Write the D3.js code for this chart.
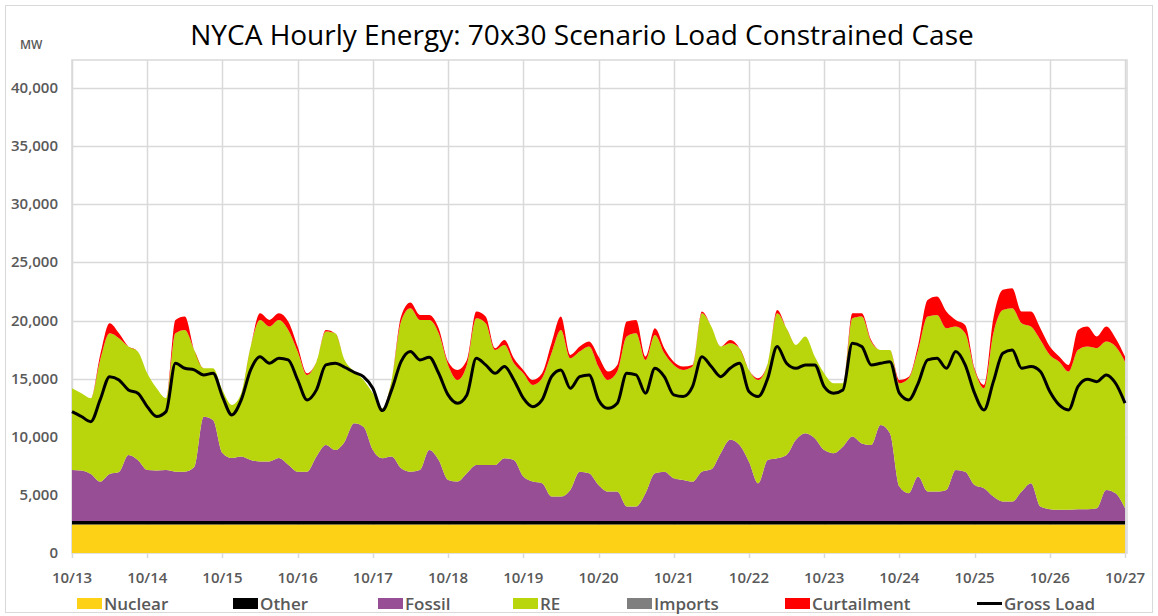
<!DOCTYPE html>
<html>
<head>
<meta charset="utf-8">
<script src="https://cdn.jsdelivr.net/npm/d3@7"></script>
<style>
  body { margin: 0; background: #fff; }
  text { font-family: "Open Sans", "Liberation Sans", sans-serif; }
</style>
</head>
<body>
<div id="vis"><svg></svg></div>
<script>
// 3-hourly samples, 10/13 00:00 to 10/27 00:00 (MW)
const dayLabels = ["10/13","10/14","10/15","10/16","10/17","10/18","10/19","10/20","10/21","10/22","10/23","10/24","10/25","10/26","10/27"];
const yTicks = [0, 5000, 10000, 15000, 20000, 25000, 30000, 35000, 40000];

const nuclearMW = 2450;
const otherMW = 300;
const importsMW = 0;

// top of the fossil layer (nuclear + other + fossil)
const fossilTop = [7140,7100,6800,6140,6800,6970,8430,8000,7140,7100,7140,7000,7000,7400,11730,11450,8600,8170,8300,8000,7880,7880,8170,7600,7000,7000,8300,9290,8860,9580,11160,10870,8860,8150,8300,7290,7000,7140,8860,8000,6280,6140,6860,7570,7570,7570,8150,8000,6570,6140,6000,4850,4850,5430,7000,6860,5850,5280,5280,4000,4000,5140,6860,7000,6430,6280,6140,7000,7200,8590,9740,9290,7860,6000,8000,8150,8430,9740,10310,9880,8860,8590,9150,10020,9430,9290,11020,10310,5710,5140,6570,5280,5280,5430,7140,7000,5850,5570,4850,4430,4430,5280,6000,4000,3770,3710,3710,3770,3770,3860,5430,5140,3860];
// top of the RE layer
const reTop = [14170,13750,13320,16610,18900,18480,17760,17330,15460,14170,13320,18900,19190,17470,15890,15890,14030,12740,13750,17760,20050,19480,20050,19190,17330,15320,16460,19050,18900,16610,15640,14890,13750,12450,14890,19910,21050,20050,20050,18900,16180,14890,16180,20190,19770,17470,17900,16320,15460,14460,15030,17180,19190,16750,17330,17760,16030,14890,15610,18620,18900,16610,18760,17180,16180,15750,16040,20620,19480,17760,18040,17620,15750,14890,16320,20620,19330,17900,18620,16900,15460,14600,14600,20190,20340,18190,17470,17470,14600,15030,17470,20340,20480,19330,19480,18900,15750,14170,18900,20910,21050,19770,19480,18330,17040,16460,15610,17470,17760,17620,18190,17760,16460];
// top of the curtailment layer (total)
const totalTop = [14170,13750,13320,17040,19770,18900,17760,17330,15460,14170,13320,20050,20340,17470,15890,15890,14030,12740,13750,17760,20620,20050,20620,19910,17760,15460,16460,19190,18900,16610,15640,14890,13750,12450,14890,20340,21540,20480,20480,19330,16460,15750,16610,20770,20340,17620,18330,16750,15750,14890,15460,18040,20340,17040,17760,18190,16900,15610,16180,19910,20050,16900,19330,17620,16460,16040,16180,20770,19480,17760,18330,17620,15750,15030,16320,20910,19330,17900,18620,16900,15460,14600,14600,20620,20620,18330,17470,17470,14890,15170,17900,21770,22060,20770,20050,19620,15890,14460,20190,22640,22780,20770,20770,19330,17760,16900,16180,19190,19480,18620,19480,18480,16900];
const grossLoad = [12160,11740,11300,13190,15170,14890,14030,13750,12590,11740,12160,16320,15890,15750,15320,15460,13460,11880,13170,15750,16890,16320,16750,16610,14890,13170,14030,16180,16320,15980,15550,15170,14170,12250,14030,16460,17330,16610,16840,15460,13600,12890,13600,16750,16180,15460,16040,14890,13320,12590,13170,15170,15750,14170,15170,15320,13170,12450,12890,15460,15320,13750,15890,15170,13600,13460,14320,16890,16040,15170,15890,16320,13890,13460,15030,17760,16320,15890,16180,16180,14320,13750,14030,18040,17760,16180,16320,16460,13750,13170,14600,16610,16750,15890,17330,16180,13750,12310,14740,17180,17470,15890,16040,15610,13890,12740,12310,14320,14950,14740,15320,14600,12890];

const seriesKeys = ["Nuclear", "Other", "Fossil", "RE", "Imports", "Curtailment"];
const colors = {
  "Nuclear": "#FCD116",
  "Other": "#000000",
  "Fossil": "#984E94",
  "RE": "#B9D50B",
  "Imports": "#7F7F7F",
  "Curtailment": "#FF0000"
};

// rows for d3.stack
const rows = fossilTop.map((f, i) => ({
  hour: i * 3,
  "Nuclear": nuclearMW,
  "Other": otherMW,
  "Fossil": f - nuclearMW - otherMW,
  "RE": reTop[i] - f,
  "Imports": importsMW,
  "Curtailment": totalTop[i] - reTop[i],
  "Load": grossLoad[i]
}));

var W = 1158, H = 616;
var plot = {left: 72, right: 1127, top: 60, bottom: 553};

var svg = d3.select("#vis").select("svg")
  .attr("width", W)
  .attr("height", H);

// outer frame
svg.append("rect")
  .attr("x", 5.5).attr("y", 5.5)
  .attr("width", W - 11).attr("height", H - 9)
  .attr("fill", "#fff")
  .attr("stroke", "#d9d9d9");

var x = d3.scaleLinear()
  .domain([0, 14 * 24])
  .range([plot.left, 1125]);

var y = d3.scaleLinear()
  .domain([0, 40000])
  .range([plot.bottom, 88]);

// gridlines
svg.append("g")
  .selectAll("line.h")
  .data(yTicks.slice(1))
  .join("line")
  .attr("x1", plot.left).attr("x2", plot.right)
  .attr("y1", d => Math.round(y(d)) + 0.5)
  .attr("y2", d => Math.round(y(d)) + 0.5)
  .attr("stroke", "#d9d9d9").attr("stroke-width", 1.5);

svg.append("g")
  .selectAll("line.v")
  .data(dayLabels)
  .join("line")
  .attr("x1", (d, i) => Math.round(x(i * 24)) + 0.5)
  .attr("x2", (d, i) => Math.round(x(i * 24)) + 0.5)
  .attr("y1", plot.top).attr("y2", plot.bottom + 5)
  .attr("stroke", "#d9d9d9").attr("stroke-width", 1.5);

svg.append("rect")
  .attr("x", plot.left).attr("y", plot.top)
  .attr("width", plot.right - plot.left)
  .attr("height", plot.bottom - plot.top)
  .attr("fill", "none")
  .attr("stroke", "#d9d9d9").attr("stroke-width", 1.5);

// stacked areas
var stack = d3.stack().keys(seriesKeys);
var layers = stack(rows);

var area = d3.area()
  .curve(d3.curveMonotoneX)
  .x(d => x(d.data.hour))
  .y0(d => y(d[0]))
  .y1(d => y(d[1]));

svg.append("g")
  .selectAll("path")
  .data(layers)
  .join("path")
  .attr("fill", d => colors[d.key])
  .attr("d", area);

// gross load line
var line = d3.line()
  .curve(d3.curveMonotoneX)
  .x(d => x(d.hour))
  .y(d => y(d.Load));

svg.append("path")
  .datum(rows)
  .attr("fill", "none")
  .attr("stroke", "#000")
  .attr("stroke-width", 3)
  .attr("stroke-linejoin", "round")
  .attr("d", line);

// y axis labels
svg.append("g")
  .selectAll("text")
  .data(yTicks)
  .join("text")
  .attr("x", 58)
  .attr("y", d => y(d) + 5)
  .attr("text-anchor", "end")
  .attr("fill", "#595959")
  .attr("font-size", 15)
  .attr("font-weight", 600)
  .text(d => d3.format(",")(d));

svg.append("text")
  .attr("x", 20).attr("y", 49)
  .attr("fill", "#595959")
  .attr("font-size", 12)
  .attr("font-weight", 600)
  .text("MW");

// x axis labels
svg.append("g")
  .selectAll("text")
  .data(dayLabels)
  .join("text")
  .attr("x", (d, i) => x(i * 24))
  .attr("y", 583)
  .attr("text-anchor", "middle")
  .attr("fill", "#595959")
  .attr("font-size", 15)
  .attr("font-weight", 600)
  .text(d => d);

// title
svg.append("text")
  .attr("x", 582).attr("y", 45)
  .attr("text-anchor", "middle")
  .attr("fill", "#000")
  .attr("font-size", 28)
  .text("NYCA Hourly Energy: 70x30 Scenario Load Constrained Case");

// legend
const legendItems = [
  {name: "Nuclear", x: 77, type: "box"},
  {name: "Other", x: 233, type: "box"},
  {name: "Fossil", x: 378, type: "box"},
  {name: "RE", x: 513, type: "box"},
  {name: "Imports", x: 627, type: "box"},
  {name: "Curtailment", x: 785, type: "box"},
  {name: "Gross Load", x: 977, type: "line"}
];

var legend = svg.append("g");
legendItems.forEach(it => {
  if (it.type == "box") {
    legend.append("rect")
      .attr("x", it.x).attr("y", 598)
      .attr("width", 25).attr("height", 11)
      .attr("fill", colors[it.name]);
  } else {
    legend.append("line")
      .attr("x1", it.x).attr("x2", it.x + 25)
      .attr("y1", 603.5).attr("y2", 603.5)
      .attr("stroke", "#000").attr("stroke-width", 3);
  }
  legend.append("text")
    .attr("x", it.x + 27).attr("y", 610)
    .attr("fill", "#595959")
    .attr("font-size", 17)
    .attr("font-weight", 600)
    .text(it.name);
});
</script>
</body>
</html>
